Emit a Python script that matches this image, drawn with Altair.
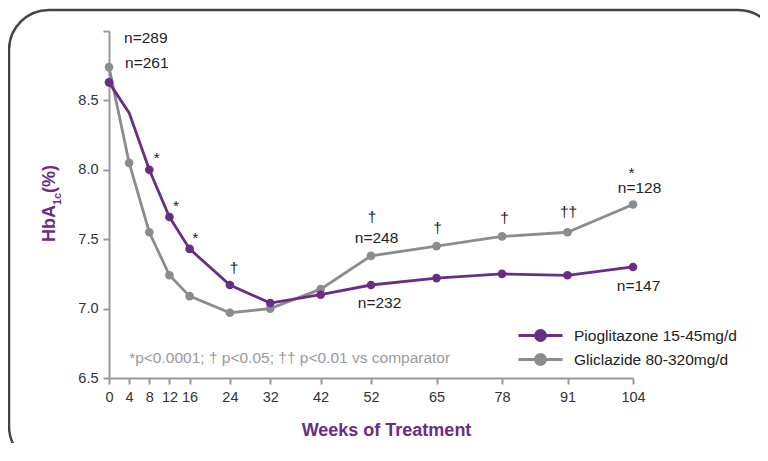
import altair as alt
import pandas as pd

# ---- data ----
weeks = [0, 4, 8, 12, 16, 24, 32, 42, 52, 65, 78, 91, 104]
pio_values = [8.63, 8.41, 8.00, 7.66, 7.43, 7.17, 7.04, 7.10, 7.17, 7.22, 7.25, 7.24, 7.30]
gli_values = [8.74, 8.05, 7.55, 7.24, 7.09, 6.97, 7.00, 7.14, 7.38, 7.45, 7.52, 7.55, 7.75]
pio_marker = [True, False, True, True, True, True, True, True, True, True, True, True, True]
gli_marker = [True] * 13
series_names = ["Pioglitazone 15-45mg/d", "Gliclazide 80-320mg/d"]
series_colors = ["#6b2c85", "#8c8c8c"]

y_ticks = [6.5, 7.0, 7.5, 8.0, 8.5, 9.0]

# annotations (text, week, value)
ann_text = ["n=289", "n=261", "*", "*", "*", "\u2020", "\u2020", "n=248", "n=232",
            "\u2020", "\u2020", "\u2020\u2020", "*", "n=128", "n=147"]
ann_week = [7.3, 7.5, 9.5, 13.3, 17.1, 24.8, 52.2, 53.1, 53.7,
            65.2, 78.5, 91.2, 103.7, 105.3, 105.1]
ann_value = [8.911, 8.736, 8.05, 7.705, 7.475, 7.253, 7.626, 7.47, 7.002,
             7.545, 7.62, 7.66, 7.94, 7.831, 7.13]

footnote = "*p<0.0001; \u2020 p<0.05; \u2020\u2020 p<0.01 vs comparator"
footnote_week = 4.0
footnote_value = 6.608

FONT = "Liberation Sans, Arial, sans-serif"
PURPLE = "#6b2c85"

rows = []
for w, v, m in zip(weeks, gli_values, gli_marker):
    rows.append({"week": w, "value": v, "series": series_names[1], "marker": m})
for w, v, m in zip(weeks, pio_values, pio_marker):
    rows.append({"week": w, "value": v, "series": series_names[0], "marker": m})
df = pd.DataFrame(rows)

ann_df = pd.DataFrame({"text": ann_text, "week": ann_week, "value": ann_value})
foot_df = pd.DataFrame({"text": [footnote], "week": [footnote_week], "value": [footnote_value]})
one = pd.DataFrame({"a": [0]})

xscale = alt.Scale(domain=[0, 104], nice=False, zero=False)
yscale = alt.Scale(domain=[6.5, 9.0], nice=False, zero=False)

x_enc = alt.X("week:Q", scale=xscale,
              axis=alt.Axis(values=weeks, title="Weeks of Treatment", format="d",
                            titleFont=FONT, titleFontSize=18, titleFontWeight="bold",
                            titleColor=PURPLE, titleX=277, titleY=57,
                            titleBaseline="alphabetic", titleAlign="center",
                            tickSize=6, labelPadding=6, labelFlush=False))
y_enc = alt.Y("value:Q", scale=yscale,
              axis=alt.Axis(values=y_ticks, title=None, tickSize=6, labelPadding=5,
                            labelFlush=False,
                            labelExpr="datum.value == 9 ? '' : format(datum.value, '.1f')"))

legend_path = "M-2,0L2,0M-0.45,0A0.45,0.45,0,1,0,0.45,0A0.45,0.45,0,1,0,-0.45,0"
color_enc = alt.Color("series:N",
                      scale=alt.Scale(domain=series_names, range=series_colors),
                      sort=series_names,
                      legend=alt.Legend(title=None, orient="none", legendX=419, legendY=292,
                                        symbolType=legend_path, symbolSize=484,
                                        symbolStrokeWidth=3, labelOffset=21,
                                        labelFont=FONT, labelFontSize=15.5, labelColor="#222",
                                        rowPadding=0, padding=0, labelLimit=300))

frame = alt.Chart(one).mark_rect(fill=None, stroke="#444", strokeWidth=2.5,
                                 cornerRadius=40).encode(
    x=alt.value(-100), x2=alt.value(669), y=alt.value(-21), y2=alt.value(435))

lines = alt.Chart(df).mark_line(strokeWidth=2.8).encode(x=x_enc, y=y_enc, color=color_enc)
points = alt.Chart(df).transform_filter("datum.marker").mark_point(
    filled=True, size=75, opacity=1).encode(x="week:Q", y="value:Q", color=color_enc)

ann = alt.Chart(ann_df).mark_text(font=FONT, fontSize=15.5, color="#222",
                                  baseline="alphabetic", align="center").encode(
    x="week:Q", y="value:Q", text="text:N")
foot = alt.Chart(foot_df).mark_text(font=FONT, fontSize=15.5, color="#9a9a9a",
                                    baseline="alphabetic", align="left").encode(
    x="week:Q", y="value:Q", text="text:N")

TFONT = "Liberation Sans, Arial, sans-serif"
t1 = alt.Chart(one).mark_text(text="HbA", font=TFONT, fontSize=18, fontWeight="bold",
                              color=PURPLE, angle=270, align="left",
                              baseline="alphabetic").encode(x=alt.value(-54), y=alt.value(211))
t2 = alt.Chart(one).mark_text(text="1c", font=TFONT, fontSize=11, fontWeight="bold",
                              color=PURPLE, angle=270, align="left",
                              baseline="alphabetic").encode(x=alt.value(-48), y=alt.value(174))
t3 = alt.Chart(one).mark_text(text="(%)", font=TFONT, fontSize=18, fontWeight="bold",
                              color=PURPLE, angle=270, align="left",
                              baseline="alphabetic").encode(x=alt.value(-54), y=alt.value(162))

chart = alt.layer(frame, lines, points, ann, foot, t1, t2, t3).properties(
    width=524, height=347,
    autosize=alt.AutoSizeParams(type="none"),
    padding={"left": 101, "top": 23, "right": 127, "bottom": 65},
).configure_view(stroke=None).configure_axis(
    grid=False, domainColor="#999", domainWidth=2, tickColor="#999", tickWidth=2,
    labelColor="#333", labelFont=FONT, labelFontSize=14.5,
)

chart.save("out.html", embed_options={"renderer": "svg", "actions": False})
